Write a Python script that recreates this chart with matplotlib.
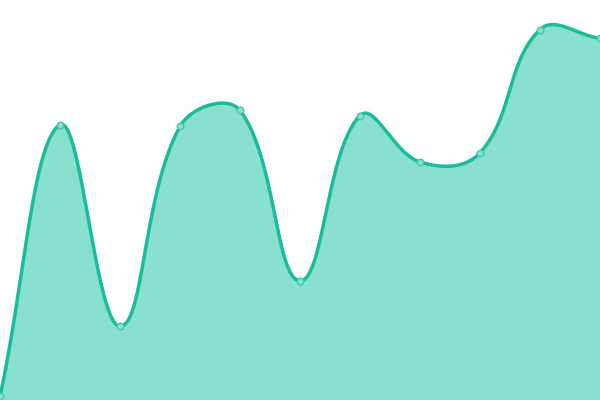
import matplotlib
matplotlib.use("Agg")
import matplotlib.pyplot as plt
import numpy as np

# values (y scale 0-100)
labels = list(range(11))
values = [1, 68.8, 18.4, 68.4, 72.4, 29.8, 71.1, 59.5, 61.8, 92.6, 90.4]

line_color = "#1abc9c"
fill_color = "#8ae0ce"

fig = plt.figure(figsize=(6, 4), dpi=100)
ax = fig.add_axes([0, 0, 1, 1])
ax.set_xlim(0, 10)
ax.set_ylim(0, 100)
ax.axis("off")

# Chart.js style spline (tension 0.4), computed in pixel space
pts = ax.transData.transform(np.column_stack([labels, values]))
t = 0.4
n = len(pts)
cp_prev = np.zeros_like(pts)
cp_next = np.zeros_like(pts)
for i in range(n):
    prev = pts[max(i - 1, 0)]
    cur = pts[i]
    nxt = pts[min(i + 1, n - 1)]
    d01 = np.hypot(*(cur - prev))
    d12 = np.hypot(*(nxt - cur))
    tot = d01 + d12
    s01 = d01 / tot if tot else 0
    s12 = d12 / tot if tot else 0
    cp_prev[i] = cur - t * s01 * (nxt - prev)
    cp_next[i] = cur + t * s12 * (nxt - prev)

curve = []
u = np.linspace(0, 1, 60)[:, None]
for i in range(n - 1):
    p0, p1, p2, p3 = pts[i], cp_next[i], cp_prev[i + 1], pts[i + 1]
    seg = (1 - u) ** 3 * p0 + 3 * (1 - u) ** 2 * u * p1 + 3 * (1 - u) * u ** 2 * p2 + u ** 3 * p3
    curve.append(seg)
curve = np.vstack(curve)
curve = ax.transData.inverted().transform(curve)

ax.fill_between(curve[:, 0], curve[:, 1], 0, color=fill_color, lw=0)
ax.plot(curve[:, 0], curve[:, 1], color=line_color, lw=2.5, solid_capstyle="round")
ax.scatter(labels, values, s=22, facecolor=fill_color, edgecolor="#3cc9a8",
           linewidths=1, zorder=3, clip_on=False)

fig.savefig("out.png", dpi=100)
